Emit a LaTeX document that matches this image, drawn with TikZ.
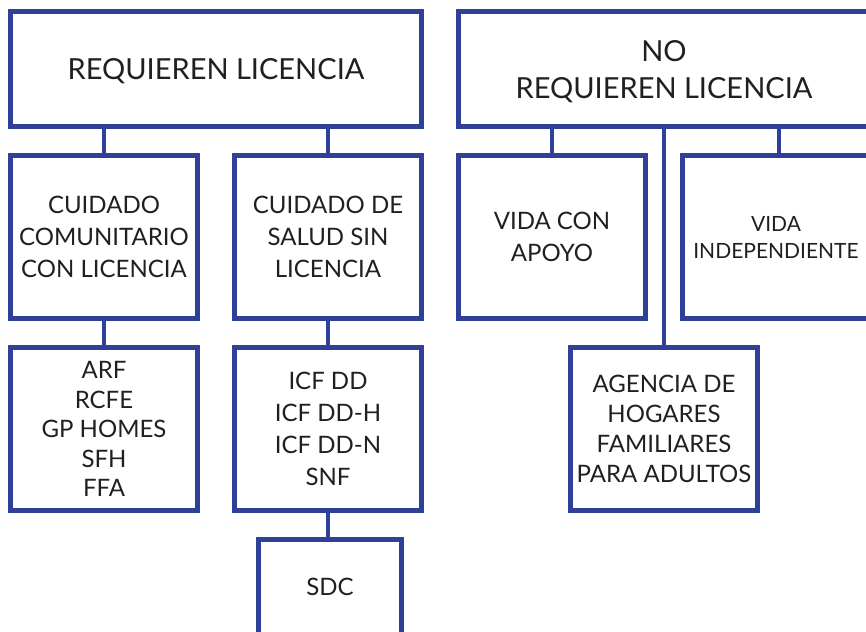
\documentclass[tikz,border=0pt]{standalone}
\usepackage{fontspec}
\setmainfont{Lato}
\usepackage{tikz}
\usetikzlibrary{positioning}
\definecolor{boxblue}{RGB}{46,64,152}
\definecolor{txtgray}{RGB}{35,31,32}

\begin{document}
\begin{tikzpicture}[x=1pt, y=-1pt,
    box/.style={draw=boxblue, line width=5pt, rectangle, fill=white, text=txtgray,
      align=center, inner sep=0pt, minimum width=187pt, minimum height=163pt,
      font=\fontsize{24}{32}\selectfont},
    bigbox/.style={box, minimum width=411pt, minimum height=115pt, text depth=0pt,
      font=\fontsize{29}{37}\selectfont},
    link/.style={draw=boxblue, line width=4pt}]
    \useasboundingbox (0,0) rectangle (866,631);
    \clip (0,0) rectangle (866,631);
    % Nodes
    \node [bigbox] (req) at (216,69) {REQUIEREN LICENCIA};
    \node [bigbox] (noreq) at (664,69) {NO\\REQUIEREN LICENCIA};
    \node [box] (comunitario) at (104,237) {CUIDADO\\COMUNITARIO\\CON LICENCIA};
    \node [box] (salud) at (328,237) {CUIDADO DE\\SALUD SIN\\LICENCIA};
    \node [box, font=\fontsize{24}{29.5}\selectfont] (arf) at (104,429) {ARF\\RCFE\\GP HOMES\\SFH\\FFA};
    \node [box] (icf) at (328,429) {ICF DD\\ICF DD-H\\ICF DD-N\\SNF};
    \node [box, minimum width=143pt, minimum height=95pt] (sdc) at (330,587) {SDC};
    \node [box] (apoyo) at (552,237) {VIDA CON\\APOYO};
    \node [box, font=\fontsize{21}{27}\selectfont] (indep) at (776,237) {VIDA\\INDEPENDIENTE};
    \node [box, font=\fontsize{24}{30}\selectfont] (agencia) at (664,429) {AGENCIA DE\\HOGARES\\FAMILIARES\\PARA ADULTOS};
    % Links
    \draw [link] (comunitario.north |- req.south) -- (comunitario.north);
    \draw [link] (salud.north |- req.south) -- (salud.north);
    \draw [link] (comunitario.south) -- (arf.north);
    \draw [link] (salud.south) -- (icf.north);
    \draw [link] (icf.south) -- (icf.south |- sdc.north);
    \draw [link] (apoyo.north |- noreq.south) -- (apoyo.north);
    \draw [link] ([xshift=3pt]indep.north |- noreq.south) -- ([xshift=3pt]indep.north);
    \draw [link] (noreq.south) -- (agencia.north);
\end{tikzpicture}
\end{document}
